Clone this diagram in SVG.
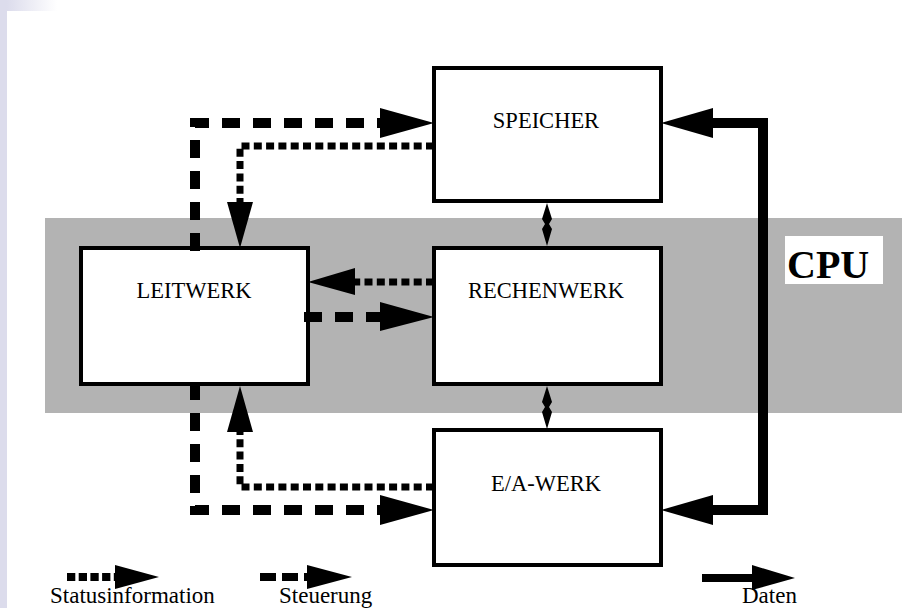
<svg xmlns="http://www.w3.org/2000/svg" width="902" height="608" viewBox="0 0 902 608">
<defs>
<linearGradient id="topfade" x1="0" y1="0" x2="1" y2="0">
<stop offset="0" stop-color="#dcdcec"/>
<stop offset="1" stop-color="#ffffff"/>
</linearGradient>
<style>
.box{fill:#fff;stroke:#000;stroke-width:4}
.lbl{font-family:"Liberation Serif","Times New Roman",serif;font-size:22.5px;fill:#000}
.leg{font-size:23px}
.mid{text-anchor:middle}
.dash{fill:none;stroke:#000;stroke-width:10;stroke-dasharray:18 13}
.dot{fill:none;stroke:#000;stroke-width:7;stroke-dasharray:8 4.3}
.data{fill:none;stroke:#000;stroke-width:10;stroke-linejoin:miter}
.head{fill:#000}
</style>
</defs>
<rect x="0" y="0" width="902" height="608" fill="#fff"/>
<rect x="0" y="0" width="7" height="608" fill="#dcdcec"/>
<rect x="7" y="0" width="50" height="11" fill="url(#topfade)"/>
<rect x="45" y="218" width="857" height="195" fill="#b3b3b3"/>
<g id="cpu">
<rect x="785" y="236" width="98" height="48" fill="#fff"/>
<text x="787" y="278" font-family="Liberation Serif,'Times New Roman',serif" font-size="40" font-weight="bold">CPU</text>
</g>
<g id="speicher">
<rect class="box" x="434" y="68" width="227" height="133"/>
<text class="lbl mid" x="546" y="128">SPEICHER</text>
</g>
<g id="leitwerk">
<rect class="box" x="81" y="248" width="227" height="136"/>
<text class="lbl mid" x="194" y="298">LEITWERK</text>
</g>
<g id="rechenwerk">
<rect class="box" x="434" y="248" width="227" height="136"/>
<text class="lbl mid" x="546" y="298">RECHENWERK</text>
</g>
<g id="eawerk">
<rect class="box" x="434" y="430" width="227" height="135"/>
<text class="lbl mid" x="546" y="491">E/A-WERK</text>
</g>
<g id="connectors">
<path class="dash" d="M195,251 V123 H382"/>
<polygon class="head" points="380,108 434,123 380,138"/>
<path class="dash" d="M304,317 H382"/>
<polygon class="head" points="380,302 434,317 380,331"/>
<path class="dash" d="M195,382 V510 H382"/>
<polygon class="head" points="380,495 434,510 380,525"/>
<path class="dot" d="M434,146 H240 V205"/>
<polygon class="head" points="227,202 253,202 240,248"/>
<path class="dot" d="M434,282 H352"/>
<polygon class="head" points="355,268 308,282 355,295"/>
<path class="dot" d="M434,487 H240 V430"/>
<polygon class="head" points="227,432 253,432 240,386"/>
<path class="data" d="M711,123 H763 V510 H711"/>
<polygon class="head" points="713,108 661,123 713,138"/>
<polygon class="head" points="713,495 661,510 713,525"/>
<polygon class="head" points="547,203 552,219 549,224 552,229 547,246 542,229 545,224 542,219"/>
<polygon class="head" points="547,386 552,402 549,407 552,412 547,429 542,412 545,407 542,402"/>
</g>
<g id="legend">
<path d="M67,577 H117" fill="none" stroke="#000" stroke-width="8" stroke-dasharray="8.3 3.4"/>
<polygon class="head" points="115,565 159,577 115,589"/>
<text class="lbl leg" x="50" y="603">Statusinformation</text>
<path d="M260,577 H309" fill="none" stroke="#000" stroke-width="8" stroke-dasharray="16 6"/>
<polygon class="head" points="307,565 352,577 307,589"/>
<text class="lbl leg" x="279" y="603">Steuerung</text>
<path d="M702,578 H754" fill="none" stroke="#000" stroke-width="8"/>
<polygon class="head" points="752,565 795,578 752,590"/>
<text class="lbl leg" x="742" y="603">Daten</text>
</g>
</svg>
